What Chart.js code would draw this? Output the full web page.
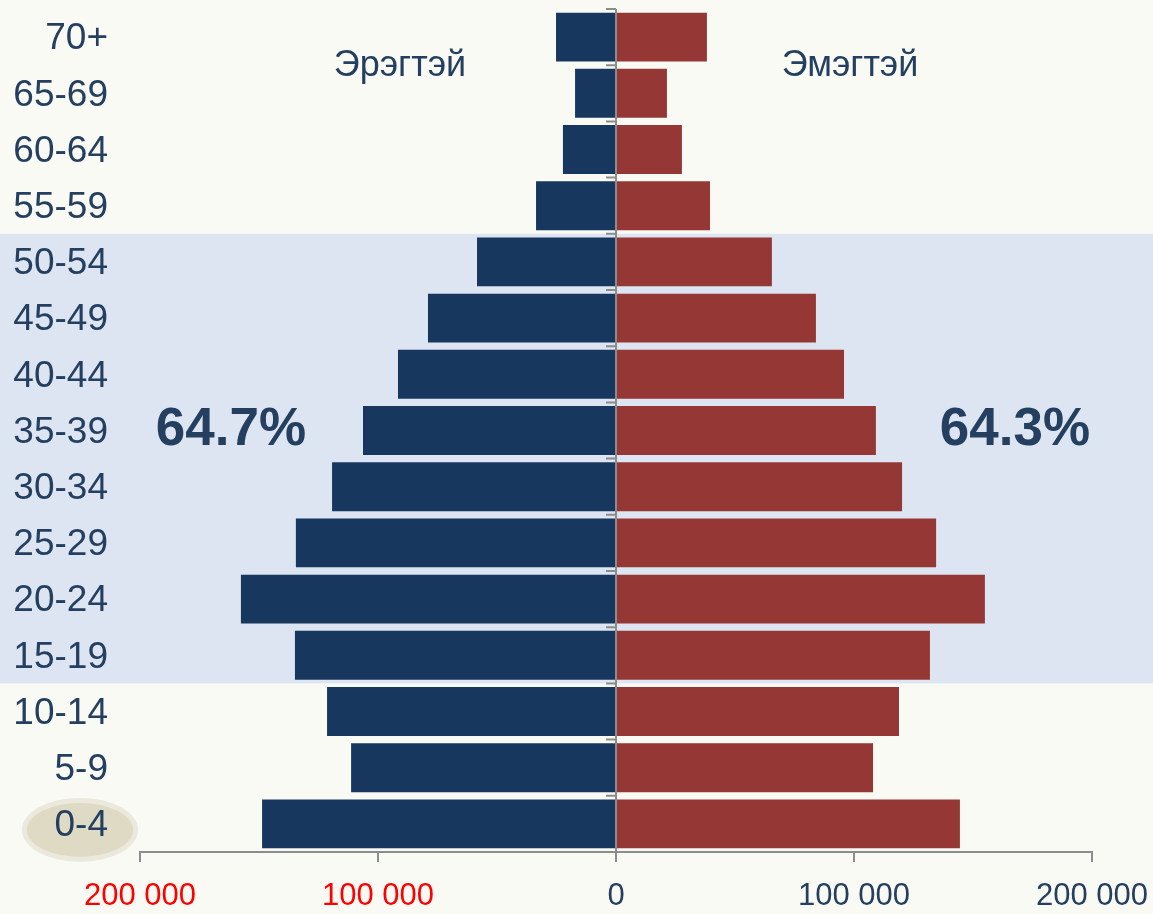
<!DOCTYPE html>
<html>
<head>
<meta charset="utf-8">
<script src="https://cdn.jsdelivr.net/npm/chart.js@4/dist/chart.umd.min.js"></script>
<style>
  html, body { margin: 0; padding: 0; background: #fafaf4; }
  #wrap { width: 1153px; height: 914px; position: relative; }
</style>
</head>
<body>
<div id="wrap"><canvas id="c" width="1153" height="914"></canvas></div>
<script>
const ageGroups = ['70+', '65-69', '60-64', '55-59', '50-54', '45-49', '40-44', '35-39', '30-34', '25-29', '20-24', '15-19', '10-14', '5-9', '0-4'];
const maleValues = [25200, 17200, 22300, 33600, 58400, 79000, 91600, 106300, 119300, 134500, 157600, 134900, 121400, 111300, 148700];
const femaleValues = [38200, 21400, 27700, 39500, 65500, 84000, 95800, 109200, 120200, 134500, 155000, 131900, 118900, 108000, 144500];
const xTicks = [-200000, -100000, 0, 100000, 200000];
const seriesNames = ['Эрэгтэй', 'Эмэгтэй'];
const workingAgeShare = ['64.7%', '64.3%'];
const bandFrom = '50-54';
const bandTo = '15-19';

const navy = '#17375e';
const darkRed = '#953735';
const textColor = '#243f60';

function fmt(v) {
  return Math.abs(v).toString().replace(/\B(?=(\d{3})+(?!\d))/g, ' ');
}

const decor = {
  id: 'decor',
  beforeDraw(chart) {
    const ctx = chart.ctx;
    const y = chart.scales.y;
    ctx.save();
    ctx.fillStyle = '#fafaf4';
    ctx.fillRect(0, 0, chart.width, chart.height);
    const i0 = ageGroups.indexOf(bandFrom), i1 = ageGroups.indexOf(bandTo);
    const top = y.getPixelForValue(i0 - 0.5);
    const bot = y.getPixelForValue(i1 + 0.5);
    ctx.fillStyle = '#dce5f1';
    ctx.fillRect(0, top, chart.width, bot - top);
    // highlight ellipse behind the last age group label
    const yl = y.getPixelForValue(ageGroups.length - 1) + 6;
    ctx.beginPath();
    ctx.ellipse(80, yl, 58, 32, 0, 0, Math.PI * 2);
    ctx.fillStyle = '#ebe8dc';
    ctx.fill();
    ctx.beginPath();
    ctx.ellipse(80, yl, 53, 27, 0, 0, Math.PI * 2);
    ctx.fillStyle = '#dedac4';
    ctx.fill();
    ctx.restore();
  },
  afterDatasetsDraw(chart) {
    const ctx = chart.ctx;
    const x = chart.scales.x, y = chart.scales.y;
    const x0 = x.getPixelForValue(0);
    ctx.save();
    ctx.strokeStyle = '#8c8c8c';
    ctx.lineWidth = 2;
    ctx.beginPath();
    const top = y.getPixelForValue(-0.5), bot = y.getPixelForValue(ageGroups.length - 0.5);
    ctx.moveTo(x0, top);
    ctx.lineTo(x0, bot);
    for (let i = 0; i <= ageGroups.length - 1; i++) {
      const yy = y.getPixelForValue(i - 0.5);
      ctx.moveTo(x0 - 10, yy);
      ctx.lineTo(x0, yy);
    }
    ctx.stroke();
    // series names
    ctx.fillStyle = textColor;
    ctx.textAlign = 'center';
    ctx.textBaseline = 'alphabetic';
    ctx.font = '36px "Liberation Sans", Arial, sans-serif';
    ctx.fillText(seriesNames[0], 400, 76);
    ctx.fillText(seriesNames[1], 850, 76);
    ctx.font = 'bold 53px "Liberation Sans", Arial, sans-serif';
    const yp = y.getPixelForValue(ageGroups.indexOf('35-39')) + 14;
    ctx.fillText(workingAgeShare[0], 231, yp);
    ctx.fillText(workingAgeShare[1], 1015, yp);
    ctx.restore();
  }
};

new Chart(document.getElementById('c'), {
  type: 'bar',
  data: {
    labels: ageGroups,
    datasets: [
      { label: seriesNames[0], data: maleValues.map(v => -v), backgroundColor: navy, barPercentage: 0.87, categoryPercentage: 1.0 },
      { label: seriesNames[1], data: femaleValues, backgroundColor: darkRed, barPercentage: 0.87, categoryPercentage: 1.0 }
    ]
  },
  options: {
    indexAxis: 'y',
    responsive: false,
    animation: false,
    devicePixelRatio: 1,
    layout: { padding: { top: 9, right: 61, left: 0, bottom: 0 } },
    plugins: { legend: { display: false }, tooltip: { enabled: false } },
    scales: {
      x: {
        stacked: true,
        min: -200000,
        max: 200000,
        afterBuildTicks(scale) { scale.ticks = xTicks.map(v => ({ value: v })); },
        afterFit(scale) { scale.height = 62; scale.paddingLeft = 0; scale.paddingRight = 0; },
        grid: { display: true, drawOnChartArea: false, drawTicks: true, tickLength: 10, color: '#8c8c8c', lineWidth: 2 },
        border: { display: true, color: '#8c8c8c', width: 2 },
        ticks: {
          padding: 16,
          maxRotation: 0,
          autoSkip: false,
          font: { family: '"Liberation Sans", Arial, sans-serif', size: 31 },
          color: ctx => (ctx.tick && ctx.tick.value < 0 ? '#ff0000' : textColor),
          callback: v => fmt(v)
        }
      },
      y: {
        stacked: true,
        afterFit(scale) { scale.width = 140; scale.paddingTop = 0; scale.paddingBottom = 0; },
        grid: { display: false, drawTicks: false },
        border: { display: false },
        ticks: {
          padding: 32,
          labelOffset: 2,
          autoSkip: false,
          font: { family: '"Liberation Sans", Arial, sans-serif', size: 37 },
          color: textColor
        }
      }
    }
  },
  plugins: [decor]
});
</script>
</body>
</html>
